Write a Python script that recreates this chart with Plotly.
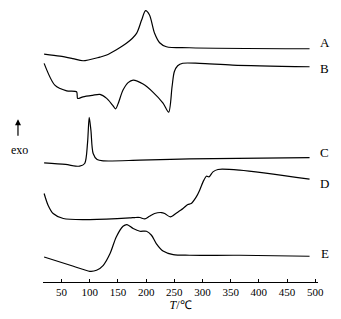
import plotly.graph_objects as go

# Temperature (°C) and signal (arbitrary units, exo up, curves offset)
T_A = [19, 47, 70, 88, 118, 130, 165, 183, 192, 199, 206, 215, 224, 236, 277, 490]
S_A = [227.7, 225.7, 223.2, 221.0, 224.7, 226.7, 238.4, 248.4, 261.7, 271.0, 266.7, 248.4, 239.0, 235.0, 234.0, 233.0]

T_B = [19, 38, 59, 76.6, 78.5, 88, 105, 118, 130, 140, 146, 150, 159, 168, 177, 194.6, 212, 230, 240, 246, 250, 256, 265, 295, 353.5, 490]
S_B = [218.4, 196.7, 191.0, 190.0, 183.4, 185.0, 186.5, 187.4, 183.4, 177.0, 173.0, 177.7, 191.7, 199.2, 201.7, 197.7, 189.7, 178.7, 169.7, 195.0, 210.0, 216.0, 218.5, 218.4, 216.7, 215.0]

T_C = [19, 57, 82, 91, 96, 99, 102, 106, 113, 124, 189, 277, 490]
S_C = [119.0, 117.4, 115.7, 118.4, 138.7, 164.4, 151.7, 128.4, 122.4, 121.0, 121.7, 123.0, 124.2]

T_D = [19, 26, 35, 53, 100, 171, 180, 189, 197.6, 206, 215, 227, 233, 243, 254, 265.5, 274, 280, 289, 295, 301, 307, 311.5, 318.6, 327.5, 366, 490]
S_D = [88.4, 76.7, 68.4, 63.4, 62.4, 64.0, 64.4, 64.4, 63.0, 65.7, 68.4, 69.4, 68.4, 65.0, 69.0, 73.4, 77.4, 78.4, 85.0, 91.7, 100.0, 105.7, 105.0, 110.0, 112.4, 111.7, 102.7]

T_E = [19, 71, 100, 112, 124, 136, 147, 159, 166, 177, 189, 200.6, 209.5, 218, 230, 248, 277, 366, 490]
S_E = [25.0, 15.7, 10.7, 11.7, 16.7, 28.4, 45.0, 55.7, 57.4, 53.4, 50.7, 50.7, 46.7, 38.4, 31.0, 27.4, 26.7, 26.7, 25.7]

labels = ["A", "B", "C", "D", "E"]
label_pos = [239.7, 213.7, 129.7, 98.7, 28.7]
tick_vals = [50, 100, 150, 200, 250, 300, 350, 400, 450, 500]

FONT = "Liberation Serif, Times New Roman, serif"

fig = go.Figure()
for tx, sy in [(T_A, S_A), (T_B, S_B), (T_C, S_C), (T_D, S_D), (T_E, S_E)]:
    fig.add_trace(go.Scatter(x=tx, y=sy, mode="lines",
                             line=dict(color="black", width=1.2, shape="spline", smoothing=0.8),
                             showlegend=False, hoverinfo="skip"))

for lab, yy in zip(labels, label_pos):
    fig.add_annotation(x=1.0244, y=yy, xref="paper", yref="y", text=lab, showarrow=False,
                       font=dict(family=FONT, size=13, color="black"), xanchor="center", yanchor="middle")

# exo arrow
fig.add_annotation(x=-0.091, y=162.7, xref="paper", yref="y", text="", showarrow=True,
                   ax=0, ay=18, arrowhead=2, arrowsize=1, arrowwidth=1.2, arrowcolor="black")
fig.add_annotation(x=-0.085, y=131.7, xref="paper", yref="y", text="exo", showarrow=False,
                   font=dict(family=FONT, size=12, color="black"), xanchor="center", yanchor="middle")

fig.update_layout(
    width=341, height=319,
    margin=dict(l=43, r=23, t=0, b=37),
    paper_bgcolor="white", plot_bgcolor="white",
    font=dict(family=FONT, size=11, color="black"),
    hovermode=False,
    xaxis=dict(range=[17, 505], tickvals=tick_vals, ticks="inside", ticklen=3, tickwidth=1,
               tickcolor="black", showline=True, linecolor="black", linewidth=1,
               showgrid=False, zeroline=False,
               tickfont=dict(family=FONT, size=11, color="black"),
               title=dict(text="<i>T</i>/℃", font=dict(family=FONT, size=12, color="black"), standoff=2)),
    yaxis=dict(range=[0, 281.7], visible=False, showgrid=False, zeroline=False),
)

fig.write_html("out.html", config={"displayModeBar": False, "staticPlot": True},
               post_script="document.body.style.margin='0';document.body.style.overflow='hidden';")
